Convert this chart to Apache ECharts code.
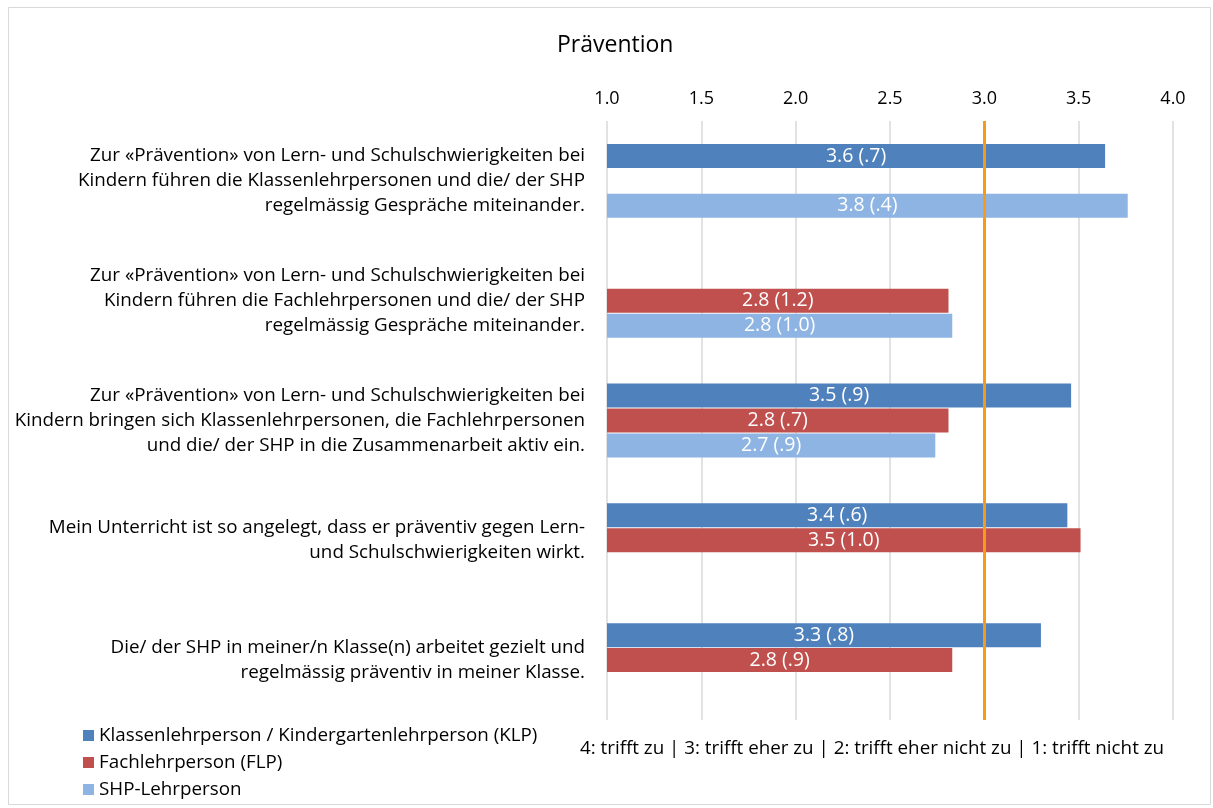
<!DOCTYPE html>
<html>
<head>
<meta charset="utf-8">
<script src="https://cdn.jsdelivr.net/npm/echarts@6/dist/echarts.min.js"></script>
<style>
html, body { margin: 0; padding: 0; background: #fff; }
#chart { width: 1213px; height: 808px; }
</style>
</head>
<body>
<div id="chart"></div>
<script>
var categories = [
	'Zur «Prävention» von Lern- und Schulschwierigkeiten bei\nKindern führen die Klassenlehrpersonen und die/ der SHP\nregelmässig Gespräche miteinander.',
	'Zur «Prävention» von Lern- und Schulschwierigkeiten bei\nKindern führen die Fachlehrpersonen und die/ der SHP\nregelmässig Gespräche miteinander.',
	'Zur «Prävention» von Lern- und Schulschwierigkeiten bei\nKindern bringen sich Klassenlehrpersonen, die Fachlehrpersonen\nund die/ der SHP in die Zusammenarbeit aktiv ein.',
	'Mein Unterricht ist so angelegt, dass er präventiv gegen Lern-\nund Schulschwierigkeiten wirkt.',
	'Die/ der SHP in meiner/n Klasse(n) arbeitet gezielt und\nregelmässig präventiv in meiner Klasse.'
];
var klp = [3.64, null, 3.46, 3.44, 3.30];
var klpSd = ['.7', null, '.9', '.6', '.8'];
var flp = [null, 2.81, 2.81, 3.51, 2.83];
var flpSd = [null, '1.2', '.7', '1.0', '.9'];
var shp = [3.76, 2.83, 2.74, null, null];
var shpSd = ['.4', '1.0', '.9', null, null];
var xTicks = [1.0, 1.5, 2.0, 2.5, 3.0, 3.5, 4.0];
var refValue = 3.0;

var font = 'Open Sans';
var fs = 18.8;

function labelFor(sd) {
	return {
		show: true,
		position: 'inside',
		color: '#fff',
		fontFamily: font,
		fontSize: 19.5,
		formatter: function(p) {
			return p.value.toFixed(1) + ' (' + sd[p.dataIndex] + ')';
		}
	};
}

var myChart = echarts.init(document.getElementById('chart'));
var option = {
	backgroundColor: '#fff',
	animation: false,
	title: [{
		text: 'Prävention',
		left: 552,
		top: 29,
		textStyle: { fontFamily: font, fontSize: 23, fontWeight: 'normal', color: '#000' }
	}, {
		text: '4: trifft zu | 3: trifft eher zu | 2: trifft eher nicht zu | 1: trifft nicht zu',
		left: 575,
		top: 734,
		textStyle: { fontFamily: font, fontSize: fs, fontWeight: 'normal', color: '#000' }
	}],
	legend: {
		orient: 'vertical',
		left: 78,
		top: 721,
		icon: 'rect',
		itemWidth: 11,
		itemHeight: 11,
		itemGap: 8,
		textStyle: { fontFamily: font, fontSize: fs, color: '#000' },
		data: ['Klassenlehrperson / Kindergartenlehrperson (KLP)', 'Fachlehrperson (FLP)', 'SHP-Lehrperson']
	},
	graphic: [{
		type: 'rect',
		shape: { x: 8.5, y: 7.5, width: 1202, height: 797 },
		style: { fill: 'none', stroke: '#D9D9D9', lineWidth: 1 },
		silent: true
	}],
	grid: {
		left: 607,
		right: 40,
		top: 121,
		bottom: 88
	},
	xAxis: {
		type: 'value',
		position: 'top',
		min: 1,
		max: 4,
		interval: 0.5,
		axisLine: { show: false },
		axisTick: { show: false },
		axisLabel: {
			fontFamily: font,
			fontSize: 18,
			color: '#000',
			margin: 13,
			formatter: function(v) { return xTicks.indexOf(v) >= 0 ? v.toFixed(1) : ''; }
		},
		splitLine: { lineStyle: { color: '#D9D9D9', width: 1.5 } }
	},
	yAxis: {
		type: 'category',
		inverse: true,
		data: categories,
		axisLine: { show: false },
		axisTick: { show: false },
		axisLabel: {
			fontFamily: font,
			fontSize: fs,
			color: '#000',
			lineHeight: 25,
			align: 'right',
			margin: 22
		}
	},
	series: [{
		name: 'Klassenlehrperson / Kindergartenlehrperson (KLP)',
		type: 'bar',
		barWidth: 24,
		barGap: '4%',
		itemStyle: { color: '#4F81BD' },
		label: labelFor(klpSd),
		data: klp,
		markLine: {
			silent: true,
			symbol: 'none',
			label: { show: false },
			lineStyle: { color: '#F79A17', width: 3, type: 'solid' },
			data: [{ xAxis: refValue }]
		}
	}, {
		name: 'Fachlehrperson (FLP)',
		type: 'bar',
		barWidth: 24,
		barGap: '4%',
		itemStyle: { color: '#C0504D' },
		label: labelFor(flpSd),
		data: flp
	}, {
		name: 'SHP-Lehrperson',
		type: 'bar',
		barWidth: 24,
		barGap: '4%',
		itemStyle: { color: '#8DB4E2' },
		label: labelFor(shpSd),
		data: shp
	}]
};
myChart.setOption(option);
</script>
</body>
</html>
